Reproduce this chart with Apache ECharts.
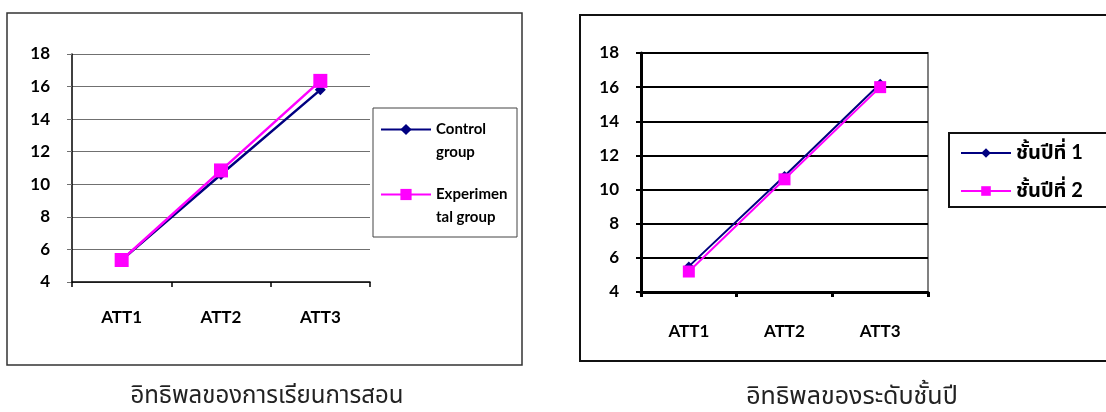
<!DOCTYPE html>
<html>
<head>
<meta charset="utf-8">
<script src="https://cdn.jsdelivr.net/npm/echarts@6/dist/echarts.min.js"></script>
<style>
  html, body { margin: 0; padding: 0; background: #fff; }
  #chart { width: 1106px; height: 412px; }
</style>
</head>
<body>
<div id="chart"></div>
<script>
// ข้อมูล
var categories = ['ATT1', 'ATT2', 'ATT3'];
var controlGroup = [5.35, 10.6, 15.8];
var experimentalGroup = [5.35, 10.85, 16.35];
var year1 = [5.5, 10.8, 16.2];
var year2 = [5.2, 10.6, 16.0];
var yMin = 4, yMax = 18, yStep = 2;

var leftNames = ['Control group', 'Experimental group'];
// blank first line keeps the legend icon level with the first text line
var leftLabels = { 'Control group': '\nControl\ngroup', 'Experimental group': '\nExperimen\ntal group' };
var rightNames = ['ชั้นปีที่ 1', 'ชั้นปีที่ 2'];
var captions = ['อิทธิพลของการเรียนการสอน', 'อิทธิพลของระดับชั้นปี'];

var NAVY = '#000080', MAGENTA = '#ff00ff';
var FONT = 'Lato, "Noto Sans Thai", "Noto Sans", sans-serif';
var THAI = '"Noto Sans Thai", "Noto Sans", sans-serif';

var chart = echarts.init(document.getElementById('chart'));

function yAxisOpt(grid, gridColor, gridWidth, axisWidth) {
    return {
        type: 'value', gridIndex: grid, min: yMin, max: yMax, interval: yStep,
        axisLine: { show: true, lineStyle: { color: '#000', width: axisWidth } },
        axisTick: { show: true, length: 5, lineStyle: { color: gridColor, width: gridWidth } },
        axisLabel: { color: '#000', fontFamily: FONT, fontWeight: 'bold', fontSize: 17, margin: 22 },
        splitLine: { show: true, lineStyle: { color: gridColor, width: gridWidth } }
    };
}
function xAxisOpt(grid, axisWidth, margin) {
    return {
        type: 'category', gridIndex: grid, data: categories, boundaryGap: true,
        axisLine: { lineStyle: { color: '#000', width: axisWidth } },
        axisTick: { show: true, length: 5, lineStyle: { color: '#000', width: axisWidth } },
        axisLabel: { color: '#000', fontFamily: FONT, fontWeight: 'bold', fontSize: 17, margin: margin }
    };
}

chart.setOption({
    animation: false,
    textStyle: { fontFamily: FONT },
    graphic: [
        { type: 'rect', shape: { x: 7, y: 13, width: 515, height: 352 }, style: { fill: 'none', stroke: '#333', lineWidth: 1.5 } },
        { type: 'rect', shape: { x: 373, y: 108, width: 144, height: 129 }, style: { fill: '#fff', stroke: '#444', lineWidth: 1 } },
        { type: 'rect', shape: { x: 580, y: 15, width: 560, height: 346 }, style: { fill: 'none', stroke: '#111', lineWidth: 2 } },
        { type: 'rect', shape: { x: 949, y: 133, width: 200, height: 74 }, style: { fill: '#fff', stroke: '#111', lineWidth: 2 } }
    ],
    title: [
        { text: captions[0], left: 262, top: 381, textAlign: 'center',
          textStyle: { fontSize: 24, fontWeight: 'normal', color: '#222', fontFamily: THAI } },
        { text: captions[1], left: 847, top: 381, textAlign: 'center',
          textStyle: { fontSize: 25, fontWeight: 'normal', color: '#222', fontFamily: THAI } }
    ],
    legend: [
        {
            data: leftNames, orient: 'vertical', left: 375, top: 90,
            itemWidth: 50, itemHeight: 14, itemGap: -4,
            formatter: function (n) { return leftLabels[n]; },
            textStyle: { fontFamily: FONT, fontWeight: 'bold', fontSize: 15, color: '#000', lineHeight: 23 }
        },
        {
            data: rightNames, orient: 'vertical', left: 955, top: 137,
            itemWidth: 50, itemHeight: 12, itemGap: 16,
            textStyle: { fontFamily: FONT, fontWeight: 'bold', fontSize: 20, color: '#000', lineHeight: 22 }
        }
    ],
    grid: [
        { left: 72, top: 54, width: 298, height: 228, show: false },
        { left: 641, top: 53, width: 287, height: 239, show: true, borderColor: '#808080', borderWidth: 2, backgroundColor: 'transparent' }
    ],
    xAxis: [xAxisOpt(0, 1.5, 27), xAxisOpt(1, 3, 31)],
    yAxis: [yAxisOpt(0, '#707070', 1, 1.5), yAxisOpt(1, '#000', 2, 3)],
    series: [
        { name: leftNames[0], type: 'line', xAxisIndex: 0, yAxisIndex: 0, data: controlGroup,
          symbol: 'diamond', symbolSize: 11, color: NAVY, lineStyle: { width: 2.5 } },
        { name: leftNames[1], type: 'line', xAxisIndex: 0, yAxisIndex: 0, data: experimentalGroup,
          symbol: 'rect', symbolSize: 14, color: MAGENTA, lineStyle: { width: 2.5 } },
        { name: rightNames[0], type: 'line', xAxisIndex: 1, yAxisIndex: 1, data: year1,
          symbol: 'diamond', symbolSize: 10, color: NAVY, lineStyle: { width: 2 } },
        { name: rightNames[1], type: 'line', xAxisIndex: 1, yAxisIndex: 1, data: year2,
          symbol: 'rect', symbolSize: 12, color: MAGENTA, lineStyle: { width: 2 } }
    ]
});
</script>
</body>
</html>
